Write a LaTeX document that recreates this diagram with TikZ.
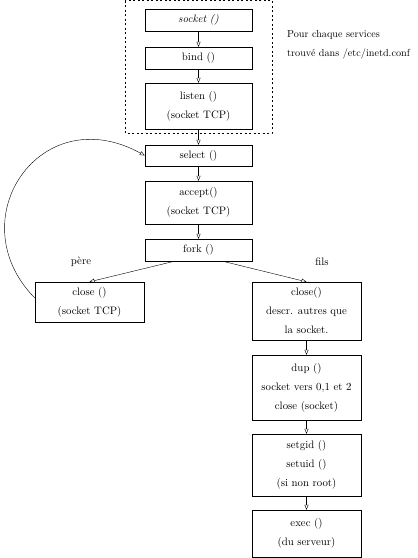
\documentclass[tikz,border=0pt]{standalone}
\usepackage{tikz}
\usetikzlibrary{arrows.meta,positioning}

\tikzset{
  texte/.style={font=\fontsize{10.8}{12.5}\selectfont},
  boite/.style={draw,minimum width=107pt,align=center,inner sep=2pt,texte},
  fleche/.style={-{Triangle[open,length=5pt,width=4pt]}},
}

\begin{document}
\begin{tikzpicture}[x=1pt,y=1pt]
  \useasboundingbox (0,0) rectangle (418,-558);
  % boucle des services
  \draw[dash pattern=on 2pt off 2.5pt] (125,-0.5) rectangle (272,-133);
  \node[boite,minimum height=22pt] (socket) at (198.5,-20) {\textit{socket ()}};
  \node[boite,minimum height=22pt] (bind) at (198.5,-58) {bind ()};
  \node[boite,minimum height=46pt] (listen) at (198.5,-106) {listen ()\\[6.5pt](socket TCP)};
  \node[font=\fontsize{10.2}{12}\selectfont,anchor=north west,align=left,inner sep=1pt] (note) at (286,-29) {Pour chaque services\\[7pt]trouv\'e dans /etc/inetd.conf};
  % boucle principale
  \node[boite,minimum height=21pt] (select) at (198.5,-155.5) {select ()};
  \node[boite,minimum height=43pt] (accept) at (198.5,-202.5) {accept()\\[6.5pt](socket TCP)};
  \node[boite,minimum height=22pt] (fork) at (198.5,-250) {fork ()};
  \node[boite,minimum width=109pt,minimum height=40pt] (closeP) at (89.5,-302) {close ()\\[6.5pt](socket TCP)};
  \node[boite,minimum width=109pt,minimum height=58pt] (closeF) at (306.5,-311) {close()\\[6.5pt]descr. autres que\\[6.5pt]la socket.};
  \node[boite,minimum width=109pt,minimum height=65pt] (dup) at (306.5,-387.5) {dup ()\\[6.5pt]socket vers 0,1 et 2\\[6.5pt]close (socket)};
  \node[boite,minimum width=109pt,minimum height=62pt] (setgid) at (306.5,-465) {setgid ()\\[6.5pt]setuid ()\\[6.5pt](si non root)};
  \node[boite,minimum width=109pt,minimum height=47pt] (exec) at (306.5,-533.5) {exec ()\\[6.5pt](du serveur)};
  \node[texte] (pere) at (81,-262) {p\`ere};
  \node[texte] (fils) at (322,-262) {fils};
  % fleches
  \draw[fleche] (socket) -- (bind);
  \draw[fleche] (bind) -- (listen);
  \draw[fleche] (listen) -- (select);
  \draw[fleche] (select) -- (accept);
  \draw[fleche] (accept) -- (fork);
  \draw[fleche] ([xshift=-24pt]fork.south) -- (closeP.north);
  \draw[fleche] ([xshift=24pt]fork.south) -- (closeF.north);
  \draw[fleche] (closeF) -- (dup);
  \draw[fleche] (dup) -- (setgid);
  \draw[fleche] (setgid) -- (exec);
  \draw[fleche] ([yshift=4pt]closeP.west) .. controls (-42,-220) and (40,-98) .. (select.west);
\end{tikzpicture}
\end{document}
